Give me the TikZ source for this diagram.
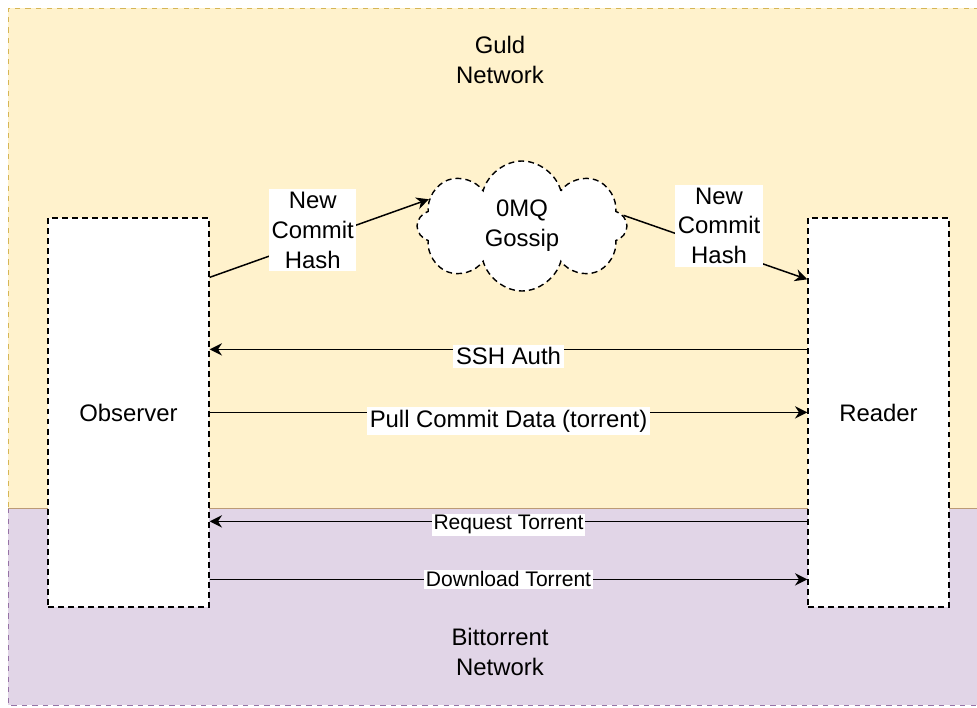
\documentclass[tikz,border=0pt]{standalone}
\usepackage{fontspec}
\setmainfont{Liberation Sans}
\usetikzlibrary{shapes.symbols,calc,arrows.meta}

\definecolor{guldfill}{HTML}{FFF2CC}
\definecolor{guldline}{HTML}{D6B656}
\definecolor{torfill}{HTML}{E1D5E7}
\definecolor{torline}{HTML}{9673A6}

\tikzstyle{hostbox}=[draw, fill=white, dash pattern=on 3.4pt off 2.3pt, line width=0.8pt, font=\fontsize{13.6}{17}\selectfont]
\tikzstyle{cloudbox}=[cloud, cloud puffs=8, aspect=1.6, draw, fill=white, dash pattern=on 3.4pt off 2.3pt, line width=0.8pt, minimum width=4.2cm, minimum height=2.6cm, align=center, font=\fontsize{13.6}{17}\selectfont]
\tikzstyle{msgarrow}=[line width=0.85pt, -{Stealth[length=7pt,width=7pt]}]
\tikzstyle{msglabel}=[fill=white, inner sep=1.5pt, font=\fontsize{13.6}{17}\selectfont]
\tikzstyle{smalllabel}=[fill=white, inner sep=1pt, font=\fontsize{12}{14}\selectfont]
\tikzstyle{netlabel}=[align=center, font=\fontsize{13.6}{17}\selectfont]

\begin{document}
\begin{tikzpicture}[x=0.02cm, y=-0.02cm]
  \useasboundingbox (0,0) rectangle (977,707);
  \clip (0,0) rectangle (977,707);
  % the two networks
  \fill[guldfill] (8,8) rectangle (990,508);
  \fill[torfill] (8,508) rectangle (990,705);
  \draw[guldline, dashed] (990,8) -- (8,8) -- (8,508);
  \draw[torline, dashed] (8,508) -- (8,705) -- (990,705);
  \draw[guldline!60!torline] (8,508) -- (990,508);
  \node[netlabel] (guld) at (500,60) {Guld\\Network};
  \node[netlabel] (bittorrent) at (500,652) {Bittorrent\\Network};

  % peers and gossip
  \node[hostbox, minimum width=3.22cm, minimum height=7.78cm] (observer) at (128.5,412.5) {Observer};
  \node[hostbox, minimum width=2.82cm, minimum height=7.78cm] (reader) at (878.5,412.5) {Reader};
  \node[cloudbox] (gossip) at (522,226) {0MQ\\Gossip};

  % messages
  \draw[msgarrow] ($(observer.north east)+(0,60)$) -- node[msglabel, align=center, pos=0.47, yshift=6pt] {New\\Commit\\Hash} (gossip.164);
  \draw[msgarrow] (gossip.6) -- node[msglabel, align=center, pos=0.52, yshift=13pt] {New\\Commit\\Hash} ($(reader.north west)+(0,62)$);
  \draw[msgarrow] ($(reader.north west)+(0,132)$) -- node[msglabel, yshift=-4pt] {SSH Auth} ($(observer.north east)+(0,132)$);
  \draw[msgarrow] ($(observer.north east)+(0,195)$) -- node[msglabel, yshift=-5pt] {Pull Commit Data (torrent)} ($(reader.north west)+(0,195)$);
  \draw[msgarrow] ($(reader.north west)+(0,304)$) -- node[smalllabel, yshift=-2pt] {Request Torrent} ($(observer.north east)+(0,304)$);
  \draw[msgarrow] ($(observer.north east)+(0,362)$) -- node[smalllabel] {Download Torrent} ($(reader.north west)+(0,362)$);
\end{tikzpicture}
\end{document}
